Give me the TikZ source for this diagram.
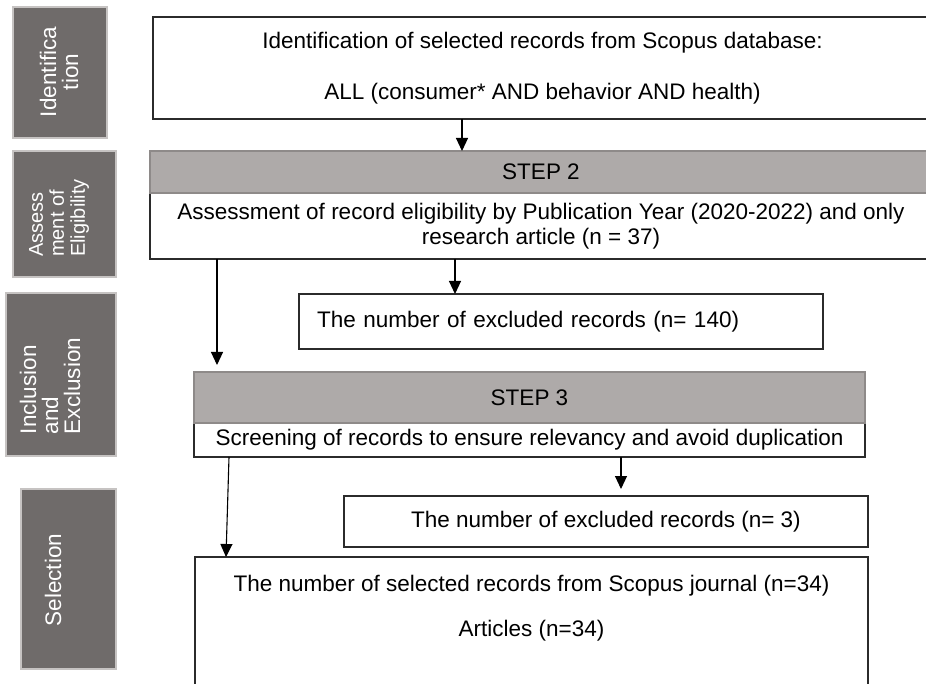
\documentclass[tikz,border=0pt]{standalone}
\usepackage{fontspec}
\setmainfont{Liberation Sans}
\usetikzlibrary{arrows.meta}
\definecolor{labgray}{HTML}{6F6B6A}
\definecolor{labedge}{HTML}{C6C3C2}
\definecolor{hdgray}{HTML}{AEAAA9}
\definecolor{hdedge}{HTML}{8E8A89}
\definecolor{boxedge}{HTML}{2B2B2B}

\begin{document}
\begin{tikzpicture}[x=1pt,y=-1pt,
  box/.style={draw=boxedge, line width=1.5pt, fill=white, inner sep=0pt, outer sep=0pt, align=center, font=\fontsize{22.5}{25}\selectfont},
  head/.style={draw=hdedge, line width=1.2pt, fill=hdgray, inner sep=0pt, outer sep=0pt, font=\fontsize{22.5}{25}\selectfont},
  labbox/.style={fill=labgray, draw=labedge, line width=1.5pt},
  labtext/.style={rotate=90, text=white, inner sep=0pt, align=left, font=\fontsize{22.5}{22}\selectfont},
  arr/.style={draw=black, line width=1.1pt, -{Triangle[width=12pt,length=13pt]}}]
\useasboundingbox (0,0) rectangle (926,684);
\clip (0,0) rectangle (926,684);

% stage labels
\filldraw[labbox] (13,7) rectangle (107,138);
\node[labtext, align=center] (idtxt) at (59,72) {Identifica\\tion};
\filldraw[labbox] (13,151) rectangle (116,277);
\node[labtext, font=\fontsize{20}{21}\selectfont] (astxt) at (59,218) {Assess\\ment of\\Eligibility};
\filldraw[labbox] (6,293) rectangle (116,456);
\node[labtext] (inctxt) at (50,386) {Inclusion\\and\\Exclusion};
\filldraw[labbox] (21,489) rectangle (116,669);
\node[labtext] (seltxt) at (53,580) {Selection};

% flow boxes
\node[box, minimum width=779, minimum height=102] (box1) at (542.5,68)
  {Identification of selected records from Scopus database:\\[26pt]ALL (consumer* AND behavior AND health)};
\node[box, minimum width=782, minimum height=66] (body2) at (541,226)
  {Assessment of record eligibility by Publication Year (2020-2022) and only\\research article (n = 37)};
\node[head, minimum width=782, minimum height=42] (hd2) at (541,172) {STEP 2};
\node[box, align=left, inner xsep=18pt, text width=488, minimum height=55] (ex1) at (561,321.5)
  {The number of excluded records (n= 140)};
\node[box, minimum width=671, minimum height=34] (body3) at (529.5,440)
  {Screening of records to ensure relevancy and avoid duplication};
\node[head, minimum width=671, minimum height=51] (hd3) at (529.5,397.5) {STEP 3};
\node[box, minimum width=524, minimum height=51] (ex2) at (606,521.5)
  {The number of excluded records (n= 3)};
\node[box, minimum width=673, minimum height=143] (fin) at (531.5,628.5)
  {The number of selected records from Scopus journal (n=34)\\[20pt]Articles (n=34)\\[20pt]\mbox{}};

% arrows
\coordinate (c1) at (462,0);
\coordinate (c2) at (455,0);
\coordinate (c3) at (217,0);
\coordinate (c4) at (621,0);
\coordinate (c5) at (229,0);
\coordinate (c6) at (226,0);
\draw[arr] (box1.south -| c1) -- (hd2.north -| c1);
\draw[arr] (body2.south -| c2) -- (ex1.north -| c2);
\draw[arr, shorten >=7pt] (body2.south -| c3) -- (hd3.north -| c3);
\draw[arr, shorten >=7pt] (body3.south -| c4) -- (ex2.north -| c4);
\draw[arr] (body3.south -| c5) -- (fin.north -| c6);
\end{tikzpicture}
\end{document}
